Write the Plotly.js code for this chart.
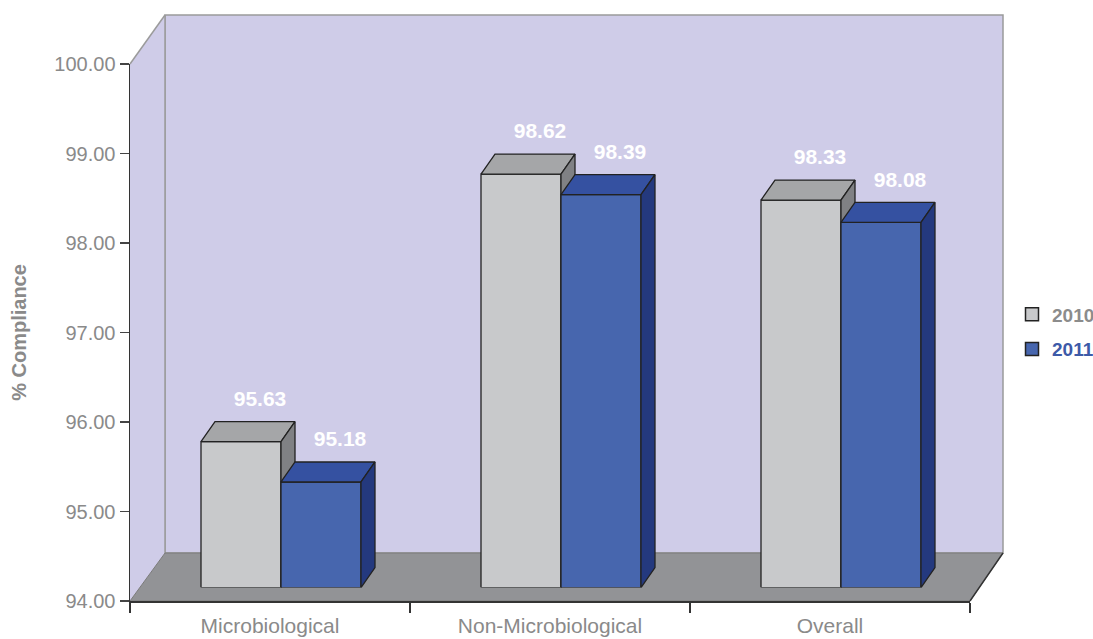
<!DOCTYPE html>
<html>
<head>
<meta charset="utf-8">
<script src="https://cdn.plot.ly/plotly-3.0.1.min.js"></script>
<style>html,body{margin:0;padding:0;background:#fff;}#chart{width:1093px;height:639px;}</style>
</head>
<body>
<div id="chart"></div>
<script>
const categories = ['Microbiological', 'Non-Microbiological', 'Overall'];
const seriesNames = ['2010', '2011'];
const values2010 = [95.63, 98.62, 98.33];
const values2011 = [95.18, 98.39, 98.08];
const yTickVals = [94, 95, 96, 97, 98, 99, 100];

// styling constants
const BASE = 94;
const BAR_W = 0.2857;   // width of one bar in category units
const DX = 0.05;        // 3D depth, x (category units)
const DY = 0.2235;      // 3D depth, y (value units)
const EDGE = '#222222';
const palette = {
  '2010': {front: '#C8C9CB', top: '#A5A6A8', side: '#808184', text: '#8c8c8c'},
  '2011': {front: '#4766AE', top: '#3551A1', side: '#24397E', text: '#3d5aa8'}
};

const traces = [];
function face(xs, ys, color) {
  traces.push({
    type: 'scatter', mode: 'lines', x: xs, y: ys, fill: 'toself',
    fillcolor: color, line: {color: EDGE, width: 1.3},
    xaxis: 'x2', yaxis: 'y2', hoverinfo: 'skip', showlegend: false
  });
}
const seriesData = {'2010': values2010, '2011': values2011};
categories.forEach((c, i) => {
  seriesNames.forEach((s, k) => {
    const v = seriesData[s][i];
    const x0 = i - BAR_W + k * BAR_W, x1 = x0 + BAR_W;
    const col = palette[s];
    face([x0, x1, x1, x0, x0], [BASE, BASE, v, v, BASE], col.front);
    face([x0, x1, x1 + DX, x0 + DX, x0], [v, v, v + DY, v + DY, v], col.top);
    face([x1, x1, x1 + DX, x1 + DX, x1], [BASE, v, v + DY, BASE + DY, BASE], col.side);
  });
});

// value labels
seriesNames.forEach((s, k) => {
  traces.push({
    type: 'scatter', mode: 'text',
    x: categories.map((c, i) => i - BAR_W / 2 + k * BAR_W + 0.068),
    y: seriesData[s].map(v => v + 0.458),
    text: seriesData[s].map(v => v.toFixed(2)),
    textposition: 'middle center',
    textfont: {family: 'Liberation Sans, Arial, sans-serif', size: 21, color: '#ffffff', weight: 'bold'},
    cliponaxis: false, xaxis: 'x2', yaxis: 'y2', hoverinfo: 'skip', showlegend: false
  });
});

// legend entries
seriesNames.forEach((s, k) => {
  traces.push({
    type: 'scatter', mode: 'markers', x: [null], y: [null],
    name: '<span style="color:' + palette[s].text + '">' + s + '</span>',
    legendgroup: s,
    marker: {symbol: 'square', size: 13, color: palette[s].front, line: {color: EDGE, width: 1.5}},
    xaxis: 'x2', yaxis: 'y2'
  });
});

// front category axis anchor trace (no visible marks)
traces.push({type: 'scatter', mode: 'markers', x: categories, y: [null, null, null],
  xaxis: 'x', yaxis: 'y', showlegend: false, hoverinfo: 'skip'});

const W = 873, H = 586;
const px = p => (p - 130) / W;
const py = p => (601 - p) / H;
const wall = '#CFCCE8';

const layout = {
  width: 1093, height: 639,
  margin: {l: 130, r: 90, t: 15, b: 38, pad: 0, autoexpand: false},
  paper_bgcolor: '#ffffff', plot_bgcolor: 'rgba(0,0,0,0)',
  font: {family: 'Liberation Sans, Arial, sans-serif', color: '#8a8a8a'},
  showlegend: true,
  legend: {x: px(1012), xanchor: 'left', y: py(332), yanchor: 'middle',
    font: {size: 19, weight: 'bold', color: '#8c8c8c'}, bgcolor: 'rgba(0,0,0,0)',
    traceorder: 'grouped', tracegroupgap: 7, borderwidth: 0},
  xaxis: {
    type: 'category', categoryarray: categories, domain: [0, px(970)], range: [-0.5, 2.5],
    tickson: 'boundaries', ticks: 'outside', ticklen: 10, tickcolor: '#333', tickwidth: 1.2,
    showline: true, linecolor: '#333', linewidth: 1.5, showgrid: false, zeroline: false,
    tickfont: {size: 21, color: '#8a8a8a'}, ticklabelstandoff: 5, fixedrange: true
  },
  yaxis: {
    domain: [0, py(64)], range: [94, 100], tickvals: yTickVals, tickformat: '.2f',
    ticks: 'outside', ticklen: 9, tickcolor: '#444', tickwidth: 1.2,
    showline: true, linecolor: '#333', linewidth: 1.5, showgrid: false, zeroline: false,
    tickfont: {size: 20, color: '#8a8a8a'},
    title: {text: '% Compliance', font: {size: 20, weight: 'bold', color: '#8a8a8a'}, standoff: 22},
    fixedrange: true
  },
  xaxis2: {domain: [px(141), px(981)], range: [-0.5, 2.5], anchor: 'y2', visible: false, fixedrange: true},
  yaxis2: {domain: [py(587.6), py(50.6)], range: [94, 100], anchor: 'x2', visible: false, fixedrange: true},
  shapes: [
    {type: 'rect', xref: 'paper', yref: 'paper', x0: px(165), x1: px(1003), y0: py(553), y1: py(15),
      fillcolor: wall, line: {color: '#9b9b9b', width: 1.5}, layer: 'below'},
    {type: 'path', xref: 'paper', yref: 'paper',
      path: `M ${px(130)},${py(64)} L ${px(165)},${py(15)} L ${px(165)},${py(553)} L ${px(130)},${py(601)} Z`,
      fillcolor: wall, line: {width: 0}, layer: 'below'},
    {type: 'line', xref: 'paper', yref: 'paper', x0: px(130), y0: py(64), x1: px(165), y1: py(15),
      line: {color: '#9b9b9b', width: 1.5}, layer: 'below'},
    {type: 'line', xref: 'paper', yref: 'paper', x0: px(165), y0: py(553), x1: px(165), y1: py(15),
      line: {color: '#9b9b9b', width: 1.5}, layer: 'below'},
    {type: 'path', xref: 'paper', yref: 'paper',
      path: `M ${px(130)},${py(601)} L ${px(970)},${py(601)} L ${px(1003)},${py(553)} L ${px(165)},${py(553)} Z`,
      fillcolor: '#929396', line: {color: '#7a7a7a', width: 1}, layer: 'below'},
    {type: 'line', xref: 'paper', yref: 'paper', x0: px(970), y0: py(601), x1: px(1003), y1: py(553),
      line: {color: '#333', width: 1.5}, layer: 'below'}
  ]
};

Plotly.newPlot('chart', traces, layout, {staticPlot: true, displayModeBar: false});
</script>
</body>
</html>
